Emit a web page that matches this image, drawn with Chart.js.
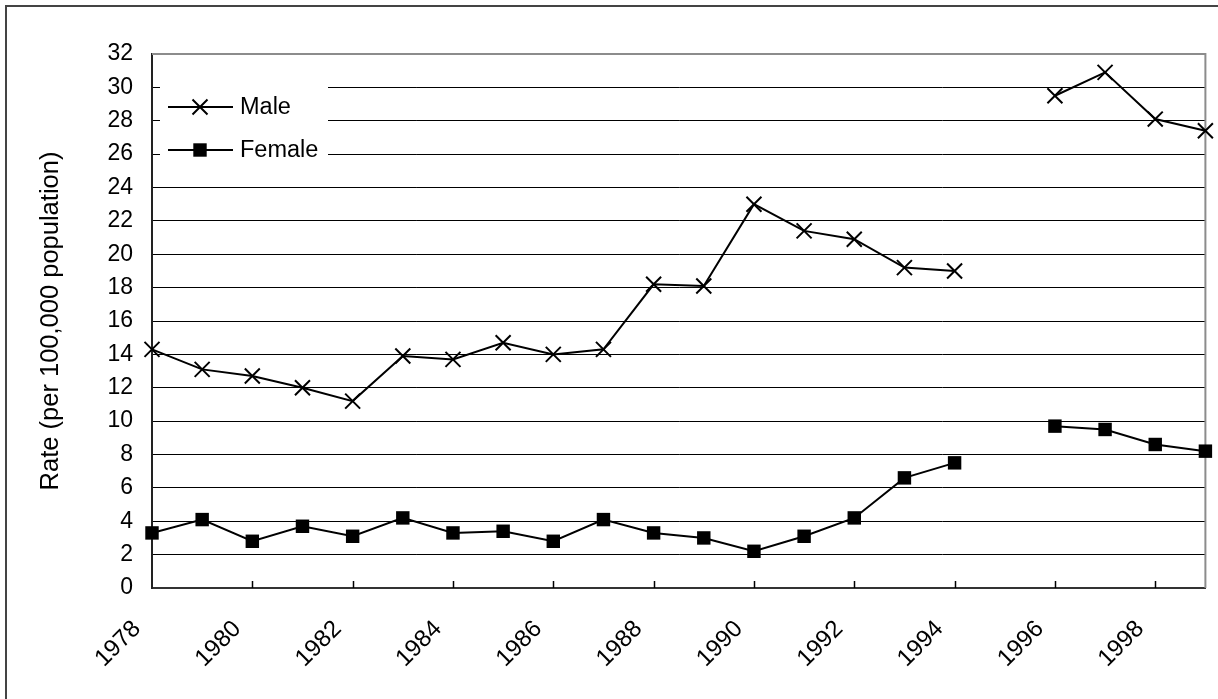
<!DOCTYPE html>
<html><head><meta charset="utf-8">
<script src="https://cdn.jsdelivr.net/npm/chart.js@4/dist/chart.umd.min.js"></script>
<style>html,body{margin:0;padding:0;background:#fff;}#wrap{width:1218px;height:699px;position:relative;}</style>
</head><body><div id="wrap"><canvas id="c" width="1218" height="699"></canvas></div>
<script>
const years = ['1978','1979','1980','1981','1982','1983','1984','1985','1986','1987','1988','1989','1990','1991','1992','1993','1994','1995','1996','1997','1998','1999'];
const male = [14.3,13.1,12.7,12.0,11.2,13.9,13.7,14.7,14.0,14.3,18.2,18.1,23.0,21.4,20.9,19.2,19.0,null,29.5,30.9,28.1,27.4];
const female = [3.3,4.1,2.8,3.7,3.1,4.2,3.3,3.4,2.8,4.1,3.3,3.0,2.2,3.1,4.2,6.6,7.5,null,9.7,9.5,8.6,8.2];
const seriesNames = ['Male','Female'];
const yMin = 0, yMax = 32, yStep = 2;
const yTitle = 'Rate (per 100,000 population)';

const FONT = 'Liberation Sans, Arial, sans-serif';

function drawMarker(ctx, style, x, y) {
  ctx.save();
  ctx.strokeStyle = '#000'; ctx.fillStyle = '#000'; ctx.lineWidth = 2;
  if (style === 'crossRot') {
    const r = 7.5;
    ctx.beginPath();
    ctx.moveTo(x - r, y - r); ctx.lineTo(x + r, y + r);
    ctx.moveTo(x - r, y + r); ctx.lineTo(x + r, y - r);
    ctx.stroke();
  } else {
    const s = 6.7;
    ctx.fillRect(x - s, y - s, 2 * s, 2 * s);
  }
  ctx.restore();
}

const framePlugin = {
  id: 'frame',
  beforeDraw(chart) {
    const ctx = chart.ctx;
    ctx.save();
    ctx.fillStyle = '#fff';
    ctx.fillRect(0, 0, chart.width, chart.height);
    ctx.strokeStyle = '#444'; ctx.lineWidth = 2;
    ctx.strokeRect(6, 6, chart.width + 20, chart.height + 20);
    ctx.restore();
  },
  beforeDatasetsDraw(chart) {
    const ctx = chart.ctx, a = chart.chartArea;
    ctx.save();
    ctx.strokeStyle = '#8c8c8c'; ctx.lineWidth = 2;
    ctx.beginPath();
    ctx.moveTo(a.left, a.top); ctx.lineTo(a.right, a.top); ctx.lineTo(a.right, a.bottom);
    ctx.stroke();
    const xs = chart.scales.x;
    ctx.strokeStyle = '#000'; ctx.lineWidth = 1.5;
    ctx.beginPath();
    years.forEach((y, i) => {
      if (i % 2 === 0 && i > 0) {
        const px = Math.round(xs.getPixelForValue(i)) + 0.5;
        ctx.moveTo(px, a.bottom); ctx.lineTo(px, a.bottom - 7);
      }
    });
    ctx.stroke();
    ctx.restore();
  },
  afterDatasetsDraw(chart) {
    const ctx = chart.ctx, a = chart.chartArea;
    ctx.save();
    ctx.fillStyle = '#fff';
    ctx.fillRect(a.left + 8, a.top + 20, 168, 98);
    chart.data.datasets.forEach((ds, i) => {
      const cy = a.top + 53 + i * 43;
      ctx.strokeStyle = '#000'; ctx.lineWidth = 2;
      ctx.beginPath(); ctx.moveTo(a.left + 16, cy); ctx.lineTo(a.left + 81, cy); ctx.stroke();
      drawMarker(ctx, ds.pointStyle, a.left + 48, cy);
      ctx.fillStyle = '#000';
      ctx.font = '23.5px ' + FONT;
      ctx.textBaseline = 'middle'; ctx.textAlign = 'left';
      ctx.fillText(ds.label, a.left + 88, cy + 1);
    });
    ctx.restore();
  }
};

new Chart(document.getElementById('c'), {
  type: 'line',
  data: {
    labels: years,
    datasets: [
      { label: seriesNames[0], data: male, borderColor: '#000', borderWidth: 2, pointStyle: 'crossRot',
        pointRadius: 10.6, pointBorderWidth: 2, pointBorderColor: '#000', pointBackgroundColor: '#000', spanGaps: false, clip: false, tension: 0 },
      { label: seriesNames[1], data: female, borderColor: '#000', borderWidth: 2, pointStyle: 'rect',
        pointRadius: 9.5, pointBorderWidth: 0, pointBorderColor: '#000', pointBackgroundColor: '#000', spanGaps: false, clip: false, tension: 0 }
    ]
  },
  options: {
    responsive: false, animation: false, devicePixelRatio: 1,
    layout: { padding: { left: 20, top: 54, right: 11, bottom: 0 } },
    plugins: { legend: { display: false }, tooltip: { enabled: false } },
    scales: {
      x: {
        offset: false,
        grid: { display: false, drawTicks: false },
        border: { display: true, color: '#333', width: 2 },
        afterFit(scale) { scale.height = 111; scale.paddingLeft = 0; scale.paddingRight = 0; },
        ticks: {
          autoSkip: false, minRotation: 45, maxRotation: 45, padding: 27, labelOffset: -15, color: '#000',
          font: { family: FONT, size: 24 },
          callback: (v, i) => (i % 2 === 0 ? years[i] : '')
        }
      },
      y: {
        min: yMin, max: yMax,
        afterFit(scale) { scale.width = 132; },
        grid: { color: (c) => (c.tick && c.tick.value === yMax ? '#8c8c8c' : '#000'), lineWidth: 1, drawTicks: false },
        border: { display: true, color: '#222', width: 2 },
        ticks: { stepSize: yStep, padding: 19, color: '#000', font: { family: FONT, size: 23 } },
        title: { display: true, text: yTitle, color: '#000', font: { family: FONT, size: 25.5 }, padding: { top: 16, bottom: 0 } }
      }
    }
  },
  plugins: [framePlugin]
});
</script></body></html>
